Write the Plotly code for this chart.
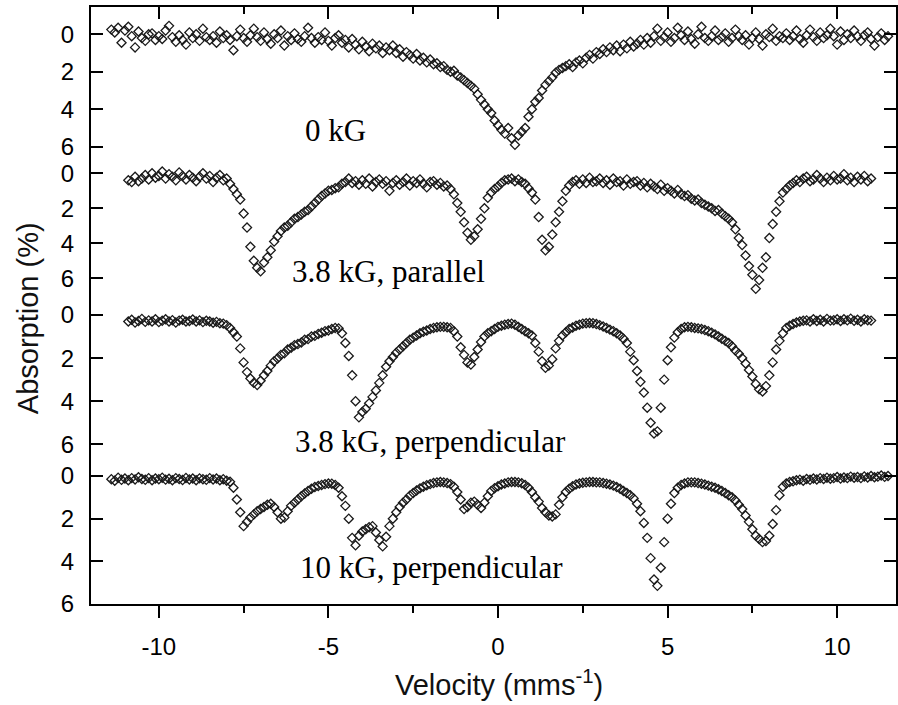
import plotly.graph_objects as go

# ---------------- data ----------------
VEL_A = [
    -11.4, -11.3, -11.2, -11.1, -11.0, -10.9, -10.8, -10.7, -10.6, -10.5,
    -10.4, -10.3, -10.2, -10.1, -10.0, -9.9, -9.8, -9.7, -9.6, -9.5,
    -9.4, -9.3, -9.2, -9.1, -9.0, -8.9, -8.8, -8.7, -8.6, -8.5,
    -8.4, -8.3, -8.2, -8.1, -8.0, -7.9, -7.8, -7.7, -7.6, -7.5,
    -7.4, -7.3, -7.2, -7.1, -7.0, -6.9, -6.8, -6.7, -6.6, -6.5,
    -6.4, -6.3, -6.2, -6.1, -6.0, -5.9, -5.8, -5.7, -5.6, -5.5,
    -5.4, -5.3, -5.2, -5.1, -5.0, -4.9, -4.8, -4.7, -4.6, -4.5,
    -4.4, -4.3, -4.2, -4.1, -4.0, -3.9, -3.8, -3.7, -3.6, -3.5,
    -3.4, -3.3, -3.2, -3.1, -3.0, -2.9, -2.8, -2.7, -2.6, -2.5,
    -2.4, -2.3, -2.2, -2.1, -2.0, -1.9, -1.8, -1.7, -1.6, -1.5,
    -1.4, -1.3, -1.2, -1.1, -1.0, -0.9, -0.8, -0.7, -0.6, -0.5,
    -0.4, -0.3, -0.2, -0.1, 0.0, 0.1, 0.2, 0.3, 0.4, 0.5,
    0.6, 0.7, 0.8, 0.9, 1.0, 1.1, 1.2, 1.3, 1.4, 1.5,
    1.6, 1.7, 1.8, 1.9, 2.0, 2.1, 2.2, 2.3, 2.4, 2.5,
    2.6, 2.7, 2.8, 2.9, 3.0, 3.1, 3.2, 3.3, 3.4, 3.5,
    3.6, 3.7, 3.8, 3.9, 4.0, 4.1, 4.2, 4.3, 4.4, 4.5,
    4.6, 4.7, 4.8, 4.9, 5.0, 5.1, 5.2, 5.3, 5.4, 5.5,
    5.6, 5.7, 5.8, 5.9, 6.0, 6.1, 6.2, 6.3, 6.4, 6.5,
    6.6, 6.7, 6.8, 6.9, 7.0, 7.1, 7.2, 7.3, 7.4, 7.5,
    7.6, 7.7, 7.8, 7.9, 8.0, 8.1, 8.2, 8.3, 8.4, 8.5,
    8.6, 8.7, 8.8, 8.9, 9.0, 9.1, 9.2, 9.3, 9.4, 9.5,
    9.6, 9.7, 9.8, 9.9, 10.0, 10.1, 10.2, 10.3, 10.4, 10.5,
    10.6, 10.7, 10.8, 10.9, 11.0, 11.1, 11.2, 11.3, 11.4, 11.5,
]

VEL_B = [
    -10.9, -10.8, -10.7, -10.6, -10.5, -10.4, -10.3, -10.2, -10.1, -10.0,
    -9.9, -9.8, -9.7, -9.6, -9.5, -9.4, -9.3, -9.2, -9.1, -9.0,
    -8.9, -8.8, -8.7, -8.6, -8.5, -8.4, -8.3, -8.2, -8.1, -8.0,
    -7.9, -7.8, -7.7, -7.6, -7.5, -7.4, -7.3, -7.2, -7.1, -7.0,
    -6.9, -6.8, -6.7, -6.6, -6.5, -6.4, -6.3, -6.2, -6.1, -6.0,
    -5.9, -5.8, -5.7, -5.6, -5.5, -5.4, -5.3, -5.2, -5.1, -5.0,
    -4.9, -4.8, -4.7, -4.6, -4.5, -4.4, -4.3, -4.2, -4.1, -4.0,
    -3.9, -3.8, -3.7, -3.6, -3.5, -3.4, -3.3, -3.2, -3.1, -3.0,
    -2.9, -2.8, -2.7, -2.6, -2.5, -2.4, -2.3, -2.2, -2.1, -2.0,
    -1.9, -1.8, -1.7, -1.6, -1.5, -1.4, -1.3, -1.2, -1.1, -1.0,
    -0.9, -0.8, -0.7, -0.6, -0.5, -0.4, -0.3, -0.2, -0.1, 0.0,
    0.1, 0.2, 0.3, 0.4, 0.5, 0.6, 0.7, 0.8, 0.9, 1.0,
    1.1, 1.2, 1.3, 1.4, 1.5, 1.6, 1.7, 1.8, 1.9, 2.0,
    2.1, 2.2, 2.3, 2.4, 2.5, 2.6, 2.7, 2.8, 2.9, 3.0,
    3.1, 3.2, 3.3, 3.4, 3.5, 3.6, 3.7, 3.8, 3.9, 4.0,
    4.1, 4.2, 4.3, 4.4, 4.5, 4.6, 4.7, 4.8, 4.9, 5.0,
    5.1, 5.2, 5.3, 5.4, 5.5, 5.6, 5.7, 5.8, 5.9, 6.0,
    6.1, 6.2, 6.3, 6.4, 6.5, 6.6, 6.7, 6.8, 6.9, 7.0,
    7.1, 7.2, 7.3, 7.4, 7.5, 7.6, 7.7, 7.8, 7.9, 8.0,
    8.1, 8.2, 8.3, 8.4, 8.5, 8.6, 8.7, 8.8, 8.9, 9.0,
    9.1, 9.2, 9.3, 9.4, 9.5, 9.6, 9.7, 9.8, 9.9, 10.0,
    10.1, 10.2, 10.3, 10.4, 10.5, 10.6, 10.7, 10.8, 10.9, 11.0,
]

# 0 kG  (on VEL_A)
ABS_0KG = [
    -0.25, -0.1, -0.35, 0.45, -0.2, -0.4, 0.1, 0.7, -0.15, 0.2,
    0.35, 0.0, -0.05, 0.3, 0.1, 0.25, -0.2, -0.45, 0.15, 0.4,
    0.05, 0.3, 0.55, -0.1, 0.2, 0.0, 0.35, -0.3, 0.15, 0.3,
    0.1, 0.45, -0.15, 0.2, 0.05, 0.3, 0.85, 0.1, -0.25, 0.2,
    0.4, 0.05, -0.3, 0.15, 0.35, -0.1, 0.25, 0.5, 0.0, 0.2,
    -0.2, 0.6, 0.1, 0.3, -0.05, 0.25, 0.4, 0.1, -0.35, 0.2,
    0.45, 0.15, 0.3, -0.1, 0.35, 0.6, 0.2, 0.05, 0.45, 0.3,
    0.7, 0.25, 0.55, 0.8, 0.4, 0.65, 0.9, 0.5, 0.75, 0.6,
    1.0, 0.7, 0.85, 0.6, 1.0, 0.8, 1.2, 0.95, 1.1, 1.3,
    1.05, 1.4, 1.25, 1.5, 1.35, 1.6, 1.55, 1.75, 1.7, 1.9,
    2.0, 1.95, 2.2, 2.3, 2.45, 2.6, 2.75, 2.9, 3.2, 3.5,
    3.75, 4.0, 4.2, 4.6, 4.85, 5.1, 5.3, 5.0, 5.55, 5.9,
    5.4, 5.2, 5.0, 4.4, 4.0, 3.6, 3.4, 3.0, 2.7, 2.5,
    2.3, 2.05, 1.9, 1.8, 1.7, 1.6, 1.75, 1.5, 1.4, 1.55,
    1.25, 1.1, 1.3, 0.95, 1.05, 0.8, 0.95, 0.7, 0.85, 0.6,
    0.9, 0.55, 0.75, 0.4, 0.65, 0.5, 0.3, 0.55, 0.2, 0.45,
    0.1, -0.3, 0.35, 0.15, -0.1, 0.4, 0.2, -0.35, 0.05, 0.3,
    -0.15, 0.25, 0.5, 0.0, -0.4, 0.2, 0.35, 0.1, -0.2, 0.3,
    0.15, -0.05, 0.4, 0.2, -0.25, 0.1, 0.3, 0.05, 0.55, 0.2,
    -0.1, 0.25, 0.6, 0.0, 0.15, -0.3, 0.35, 0.1, 0.2, -0.05,
    0.3, 0.1, -0.2, 0.25, 0.45, 0.05, -0.25, 0.15, 0.35, -0.1,
    0.2, 0.05, -0.3, 0.1, 0.55, -0.15, 0.3, 0.0, 0.2, -0.2,
    0.1, 0.35, 0.05, -0.1, 0.25, 0.6, 0.15, -0.05, 0.3, 0.1,
]

# 3.8 kG, parallel  (on VEL_B)
ABS_38_PAR = [
    0.4, 0.5, 0.2, 0.45, 0.3, 0.1, 0.35, 0.0, 0.25, 0.15,
    -0.1, 0.3, 0.05, 0.2, 0.4, -0.05, 0.15, 0.35, 0.1, 0.25,
    0.45, 0.2, 0.0, 0.3, 0.15, 0.5, 0.25, 0.1, 0.4, 0.3,
    0.6, 0.9, 1.2, 1.5, 2.3, 3.1, 4.2, 5.0, 5.4, 5.6,
    5.1, 4.8, 4.4, 3.9, 3.6, 3.3, 3.1, 3.0, 2.8, 2.6,
    2.5, 2.35, 2.2, 2.1, 1.9, 1.7, 1.5, 1.3, 1.15, 1.0,
    0.95, 0.85, 0.8, 0.6, 0.5, 0.3, 0.55, 0.45, 0.65, 0.4,
    0.6, 0.3, 0.75, 0.5, 0.35, 0.6, 0.45, 1.0, 0.55, 0.4,
    0.65, 0.5, 0.3, 0.7, 0.45, 0.55, 0.35, 0.6, 0.8, 0.5,
    0.45, 0.65, 0.55, 0.75, 0.7, 0.9, 1.2, 1.7, 2.2, 2.8,
    3.4, 3.8, 3.6, 3.2, 2.6, 2.0, 1.4, 1.1, 0.9, 0.75,
    0.55, 0.4, 0.35, 0.3, 0.45, 0.35, 0.5, 0.6, 0.85, 1.1,
    1.5, 2.5, 3.8, 4.4, 4.2, 3.5, 2.8, 2.2, 1.6, 1.0,
    0.7, 0.5, 0.4, 0.6, 0.35, 0.55, 0.25, 0.5, 0.45, 0.3,
    0.55, 0.4, 0.65, 0.3, 0.5, 0.45, 0.7, 0.35, 0.6, 0.5,
    0.45, 0.7, 0.55, 0.8, 0.6, 0.75, 0.9, 0.65, 1.0, 0.85,
    1.0, 1.15, 0.95, 1.2, 1.3, 1.25, 1.45, 1.55, 1.5, 1.7,
    1.8, 1.9, 2.0, 2.15, 2.1, 2.3, 2.45, 2.6, 2.8, 3.2,
    3.7, 4.1, 4.7, 5.3, 5.8, 6.6, 6.1, 5.4, 4.8, 3.7,
    2.9, 2.2, 1.6, 1.1, 0.9, 0.7, 0.55, 0.4, 0.5, 0.3,
    0.2, 0.45, 0.35, 0.1, 0.3, 0.5, 0.25, 0.4, 0.15, 0.35,
    0.3, 0.05, 0.4, 0.25, 0.5, 0.2, 0.35, 0.15, 0.45, 0.3,
]

# 3.8 kG, perpendicular  (on VEL_B)
ABS_38_PERP = [
    0.3, 0.22, 0.35, 0.28, 0.18, 0.32, 0.25, 0.3, 0.2, 0.33,
    0.27, 0.2, 0.3, 0.24, 0.35, 0.26, 0.22, 0.3, 0.28, 0.21,
    0.3, 0.25, 0.33, 0.27, 0.3, 0.36, 0.32, 0.38, 0.4, 0.47,
    0.6, 0.8, 1.0, 1.55, 2.2, 2.65, 2.95, 3.15, 3.25, 3.05,
    2.8, 2.6, 2.35, 2.15, 2.02, 1.85, 1.78, 1.6, 1.52, 1.4,
    1.35, 1.28, 1.15, 1.12, 1.0, 0.97, 0.88, 0.82, 0.75, 0.72,
    0.65, 0.6, 0.62, 0.85, 1.3, 1.9, 2.8, 4.0, 4.75, 4.5,
    4.35, 4.1, 3.8, 3.5, 3.15, 2.8, 2.4, 2.15, 1.95, 1.75,
    1.6, 1.45, 1.3, 1.15, 1.05, 0.95, 0.85, 0.78, 0.72, 0.65,
    0.6, 0.57, 0.55, 0.55, 0.57, 0.6, 0.75, 1.0, 1.5, 1.85,
    2.2, 2.3, 1.95, 1.6, 1.25, 1.0, 0.85, 0.75, 0.65, 0.55,
    0.5, 0.45, 0.42, 0.4, 0.45, 0.55, 0.65, 0.75, 0.85, 0.95,
    1.3, 1.7, 2.15, 2.45, 2.35, 2.05, 1.55, 1.2, 0.95, 0.8,
    0.65, 0.58, 0.5, 0.45, 0.4, 0.38, 0.37, 0.38, 0.42, 0.47,
    0.53, 0.6, 0.68, 0.75, 0.85, 0.95, 1.1, 1.3, 1.7, 2.1,
    2.6, 3.1, 3.6, 4.3, 5.0, 5.5, 5.4, 4.3, 3.0, 2.1,
    1.5, 1.05, 0.8, 0.65, 0.57, 0.55, 0.57, 0.6, 0.62, 0.65,
    0.7, 0.75, 0.82, 0.9, 1.0, 1.1, 1.2, 1.3, 1.45, 1.65,
    1.8, 2.0, 2.25, 2.55, 2.85, 3.2, 3.45, 3.55, 3.3, 2.8,
    2.2, 1.6, 1.2, 0.85, 0.6, 0.5, 0.42, 0.35, 0.3, 0.27,
    0.25, 0.3, 0.2, 0.28, 0.22, 0.3, 0.18, 0.26, 0.24, 0.2,
    0.28, 0.2, 0.25, 0.17, 0.27, 0.22, 0.3, 0.2, 0.24, 0.26,
]

# 10 kG, perpendicular  (on VEL_A)
ABS_10_PERP = [
    0.15, 0.22, 0.08, 0.18, 0.12, 0.2, 0.1, 0.16, 0.06, 0.14,
    0.18, 0.1, 0.2, 0.12, 0.15, 0.08, 0.17, 0.13, 0.2, 0.1,
    0.14, 0.19, 0.09, 0.16, 0.12, 0.2, 0.11, 0.15, 0.18, 0.1,
    0.16, 0.12, 0.2, 0.15, 0.22, 0.27, 0.55, 1.1, 1.7, 2.35,
    2.15, 1.95, 1.8, 1.65, 1.55, 1.45, 1.35, 1.3, 1.45, 1.7,
    2.0, 1.95, 1.65, 1.4, 1.25, 1.1, 0.95, 0.82, 0.7, 0.6,
    0.52, 0.47, 0.42, 0.38, 0.35, 0.36, 0.42, 0.55, 0.95, 1.4,
    2.0, 2.9, 3.25, 2.8, 2.6, 2.5, 2.4, 2.35, 2.65, 3.0,
    3.3, 2.85, 2.35, 2.0, 1.7, 1.45, 1.25, 1.1, 0.92, 0.8,
    0.68, 0.58, 0.5, 0.43, 0.38, 0.33, 0.3, 0.28, 0.3, 0.33,
    0.38, 0.5, 0.75, 1.1, 1.55, 1.45, 1.25, 1.2, 1.35, 1.5,
    1.25, 0.95, 0.7, 0.57, 0.48, 0.4, 0.35, 0.3, 0.28, 0.28,
    0.3, 0.34, 0.42, 0.55, 0.75, 1.0, 1.2, 1.5, 1.7, 1.85,
    1.9, 1.8, 1.35, 1.0, 0.75, 0.6, 0.48, 0.4, 0.35, 0.32,
    0.3, 0.28, 0.28, 0.3, 0.3, 0.33, 0.36, 0.4, 0.45, 0.52,
    0.6, 0.7, 0.8, 0.9, 1.05, 1.3, 1.65, 2.2, 2.9, 3.85,
    4.85, 5.15, 4.3, 3.1, 2.0, 1.3, 0.8, 0.55, 0.42, 0.35,
    0.3, 0.3, 0.3, 0.33, 0.36, 0.4, 0.45, 0.5, 0.55, 0.62,
    0.7, 0.8, 0.9, 1.0, 1.15, 1.35, 1.55, 1.85, 2.15, 2.5,
    2.8, 2.95, 3.1, 3.05, 2.8, 2.25, 1.6, 0.9, 0.5, 0.35,
    0.28, 0.25, 0.2, 0.17, 0.22, 0.14, 0.18, 0.12, 0.16, 0.1,
    0.14, 0.08, 0.13, 0.1, 0.05, 0.12, 0.07, 0.1, 0.03, 0.08,
    0.05, 0.1, 0.02, 0.07, 0.0, 0.06, 0.03, -0.02, 0.04, 0.0,
]

PANEL_LABELS = ["0 kG", "3.8 kG, parallel", "3.8 kG, perpendicular", "10 kG, perpendicular"]
Y_TICKS = [0, 2, 4, 6]
Y_TICK_LABELS = ["0", "2", "4", "6"]
X_TICKS = [-10, -5, 0, 5, 10]
X_TICK_LABELS = ["-10", "-5", "0", "5", "10"]
X_MINOR_TICKS = [-7.5, -2.5, 2.5, 7.5]

assert len(VEL_A) == len(ABS_0KG) == len(ABS_10_PERP)
assert len(VEL_B) == len(ABS_38_PAR) == len(ABS_38_PERP)

# ---------------- layout geometry ----------------
W, H = 898, 705
ML, MR, MT, MB = 91, 0, 7, 101
PW = W - ML - MR
PH = H - MT - MB
PX_PER_UNIT = 34.0
X_RANGE = [-12.0, -12.0 + PW / PX_PER_UNIT]


def py2paper(py):
    return (H - MB - py) / PH


# pixel rows: (position of 0, position of 6, panel top, panel bottom)
PANEL_PX = [
    (34.3, 146.7, 7, 160),
    (173.3, 278.3, 160, 296),
    (315.0, 444.3, 296, 460),
    (476.0, 604.0, 460, 604),
]
LABEL_POS = [(-4.8, 130), (-3.24, 271), (-2.0, 442), (-1.96, 567)]

series = [(VEL_A, ABS_0KG), (VEL_B, ABS_38_PAR), (VEL_B, ABS_38_PERP), (VEL_A, ABS_10_PERP)]

TICK_FONT = dict(family="Liberation Sans, Arial, sans-serif", size=24, color="black")
marker = dict(symbol="diamond-open", size=7, color="#1a1a1a", line=dict(width=1.3, color="#1a1a1a"))

fig = go.Figure()
for i, (xs, ys) in enumerate(series):
    fig.add_trace(go.Scatter(
        x=xs, y=ys, mode="markers", marker=marker, showlegend=False,
        xaxis="x2" if i == 0 else "x",
        yaxis="y" if i == 0 else f"y{i + 1}",
    ))

layout = dict(
    width=W, height=H,
    margin=dict(l=ML, r=MR, t=MT, b=MB),
    paper_bgcolor="white", plot_bgcolor="white",
    showlegend=False,
    xaxis=dict(
        domain=[0, 1], range=X_RANGE, anchor="y4", side="bottom",
        tickmode="array", tickvals=X_TICKS, ticktext=X_TICK_LABELS,
        ticks="outside", ticklen=12, tickwidth=2,
        tickcolor="black", showline=True, linewidth=2, linecolor="black",
        showgrid=False, zeroline=False, tickfont=TICK_FONT, ticklabelstandoff=8,
        minor=dict(tickvals=X_MINOR_TICKS, ticks="outside", ticklen=7, tickwidth=2,
                   tickcolor="black", showgrid=False),
    ),
    xaxis2=dict(
        overlaying="x", range=X_RANGE, anchor="y", side="top",
        tickmode="array", tickvals=X_TICKS, ticks="inside", ticklen=12, tickwidth=2,
        tickcolor="black", showline=True, linewidth=2, linecolor="black",
        showgrid=False, zeroline=False, showticklabels=False,
        minor=dict(tickvals=X_MINOR_TICKS, ticks="inside", ticklen=7, tickwidth=2,
                   tickcolor="black", showgrid=False),
    ),
)

for i, (z, s, top, bot) in enumerate(PANEL_PX):
    unit = (s - z) / 6.0
    r_top = (top - z) / unit
    r_bot = (bot - z) / unit
    key = "yaxis" if i == 0 else f"yaxis{i + 1}"
    layout[key] = dict(
        domain=[py2paper(bot), py2paper(top)],
        range=[r_bot, r_top], anchor="x",
        tickmode="array", tickvals=Y_TICKS, ticktext=Y_TICK_LABELS,
        ticks="inside", ticklen=12, tickwidth=2,
        tickcolor="black", showline=True, linewidth=2, linecolor="black", mirror="ticks",
        showgrid=False, zeroline=False, tickfont=TICK_FONT, ticklabelstandoff=10,
    )

annotations = []
for text, (xv, py) in zip(PANEL_LABELS, LABEL_POS):
    annotations.append(dict(
        text=text, x=xv, y=py2paper(py), xref="x", yref="paper",
        xanchor="center", yanchor="middle", showarrow=False,
        font=dict(family="Liberation Serif, Times New Roman, serif", size=31, color="black"),
    ))
annotations.append(dict(
    text="Absorption (%)", x=(28 - ML) / PW, y=py2paper(318), xref="paper", yref="paper",
    xanchor="center", yanchor="middle", textangle=-90, showarrow=False,
    font=dict(family="Liberation Sans, Arial, sans-serif", size=29, color="#111"),
))
annotations.append(dict(
    text="Velocity (mms<sup>-1</sup>)", x=(500 - ML) / PW, y=py2paper(683),
    xref="paper", yref="paper", xanchor="center", yanchor="middle", showarrow=False,
    font=dict(family="Liberation Sans, Arial, sans-serif", size=29, color="#111"),
))
layout["annotations"] = annotations

fig.update_layout(**layout)
fig.write_html(
    "out.html",
    config={"displayModeBar": False},
    post_script="document.body.style.margin='0px';document.body.style.overflow='hidden';",
)
